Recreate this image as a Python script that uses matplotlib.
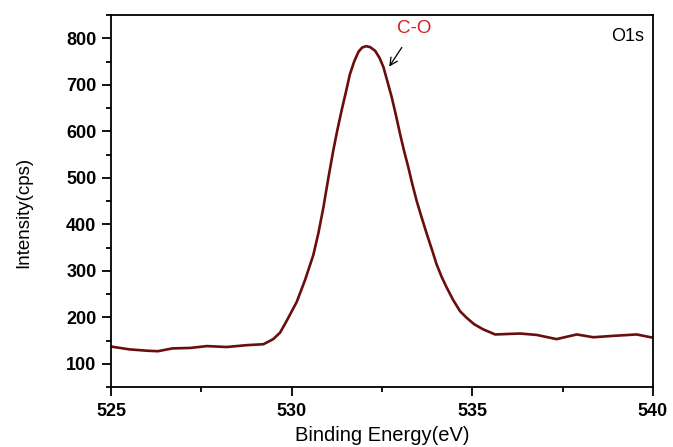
import matplotlib
matplotlib.use("Agg")
import matplotlib.pyplot as plt
from matplotlib.ticker import MultipleLocator

plt.rcParams['font.family'] = ['Liberation Sans', 'DejaVu Sans']

# Binding energy (eV) and intensity (cps)
energy = [525.0, 525.5, 526.0, 526.3, 526.7, 527.2, 527.65, 528.2, 528.76, 529.22,
          529.49, 529.68, 529.86, 530.14, 530.37, 530.6, 530.74, 530.88, 531.01,
          531.15, 531.26, 531.38, 531.5, 531.61, 531.73, 531.85, 531.95, 532.06,
          532.17, 532.31, 532.43, 532.54, 532.65, 532.77, 532.89, 533.0, 533.11,
          533.23, 533.34, 533.46, 533.6, 533.74, 533.88, 534.01, 534.15, 534.29,
          534.47, 534.66, 534.84, 535.05, 535.3, 535.63, 536.32, 536.78,
          537.33, 537.89, 538.35, 538.9, 539.55, 540.0]
intensity = [137, 131, 128, 127, 133, 134, 138, 136, 140, 142,
             153, 167, 192, 233, 280, 334, 381, 437, 497,
             558, 601, 644, 684, 722, 750, 771, 780, 783,
             781, 773, 758, 738, 707, 673, 633, 594, 558,
             522, 486, 450, 414, 379, 346, 314, 287, 264,
             237, 213, 199, 185, 174, 163, 165, 162,
             153, 163, 157, 160, 163, 156]

fig = plt.figure(figsize=(6.73, 4.47), dpi=100)
ax = fig.add_axes([111/673, 60/447, 542/673, 372/447])
ax.plot(energy, intensity, color='#6a0d0d', lw=1.9, solid_joinstyle='round')

ax.set_xlim(525, 540)
ax.set_ylim(50, 850)
ax.xaxis.set_major_locator(MultipleLocator(5))
ax.xaxis.set_minor_locator(MultipleLocator(2.5))
ax.yaxis.set_minor_locator(MultipleLocator(50))
ax.set_yticks(range(100, 900, 100))
ax.tick_params(which='both', direction='out', top=False, right=False, width=1.3)
ax.tick_params(which='major', length=6.5, labelsize=13)
ax.tick_params(axis='y', which='major', pad=4)
ax.tick_params(axis='x', which='major', pad=5)
ax.tick_params(which='minor', length=3.5)
for lab in ax.get_xticklabels() + ax.get_yticklabels():
    lab.set_fontweight('bold')
for s in ax.spines.values():
    s.set_linewidth(1.3)

ax.set_xlabel('Binding Energy(eV)', fontsize=14.5)
ax.xaxis.set_label_coords(0.501, -0.105)
ax.set_ylabel('Intensity(cps)', fontsize=13.5)
ax.yaxis.set_label_coords(-0.146, 0.47)

ax.text(0.984, 0.965, 'O1s', transform=ax.transAxes, ha='right', va='top', fontsize=13)
ax.annotate('C-O', xy=(532.7, 739), xytext=(533.4, 822), color='#d42020',
            fontsize=13.5, ha='center', va='center',
            arrowprops=dict(arrowstyle='->', color='black', lw=0.9,
                            shrinkA=7, shrinkB=0))

fig.savefig('out.png', dpi=100)
